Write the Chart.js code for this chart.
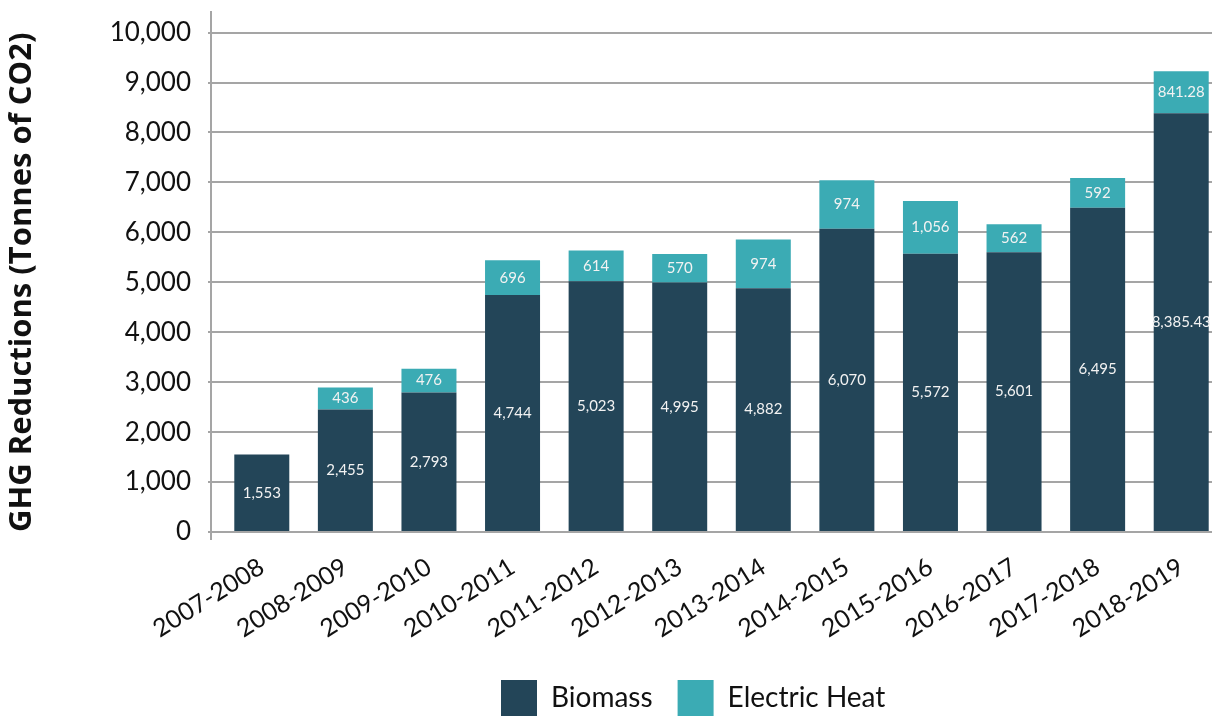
<!DOCTYPE html>
<html>
<head>
<meta charset="utf-8">
<script src="https://cdn.jsdelivr.net/npm/chart.js@4/dist/chart.umd.min.js"></script>
<style>
  html, body { margin: 0; padding: 0; background: #fff; }
  #wrap { width: 1212px; height: 717px; overflow: hidden; position: relative; }
  canvas { display: block; }
</style>
</head>
<body>
<div id="wrap">
  <canvas id="chart" width="1223" height="717" style="width:1223px;height:717px"></canvas>
</div>
<script>
const categories = ["2007-2008", "2008-2009", "2009-2010", "2010-2011", "2011-2012", "2012-2013",
  "2013-2014", "2014-2015", "2015-2016", "2016-2017", "2017-2018", "2018-2019"];
const biomass = [1553, 2455, 2793, 4744, 5023, 4995, 4882, 6070, 5572, 5601, 6495, 8385.43];
const electricHeat = [null, 436, 476, 696, 614, 570, 974, 974, 1056, 562, 592, 841.28];
const yTicks = [0, 1000, 2000, 3000, 4000, 5000, 6000, 7000, 8000, 9000, 10000];

const fmt = v => v.toLocaleString("en-US", { maximumFractionDigits: 2 });

// value labels inside each segment
const barLabels = {
  id: "barLabels",
  afterDatasetsDraw(chart) {
    const ctx = chart.ctx;
    ctx.save();
    ctx.fillStyle = "#f2f2f2";
    ctx.font = "15px Lato";
    ctx.textAlign = "center";
    ctx.textBaseline = "middle";
    chart.data.datasets.forEach((ds, i) => {
      chart.getDatasetMeta(i).data.forEach((bar, j) => {
        const v = ds.data[j];
        if (v == null) return;
        ctx.fillText(fmt(v), bar.x, (bar.y + bar.base) / 2);
      });
    });
    ctx.restore();
  }
};

// vertical axis line sits a little left of the plot area
const axisLine = {
  id: "axisLine",
  beforeDatasetsDraw(chart) {
    const { ctx, chartArea } = chart;
    ctx.save();
    ctx.strokeStyle = "#a5a5a5";
    ctx.lineWidth = 2;
    ctx.beginPath();
    ctx.moveTo(chartArea.left - 9, 11);
    ctx.lineTo(chartArea.left - 9, chartArea.bottom + 8);
    ctx.stroke();
    ctx.restore();
  }
};

// move legend under the visible part of the chart
const legendShift = {
  id: "legendShift",
  afterLayout(chart) {
    const lg = chart.legend;
    if (!lg || !lg.lineWidths) return;
    const pad = lg.options.labels.padding;
    const boxLeft = (lg.left + pad + lg.right - lg.lineWidths[0]) / 2;
    const dx = 501 - boxLeft;
    const dy = 680 - (lg.top + pad);
    lg.left += dx; lg.right += dx;
    lg.top += dy; lg.bottom += dy;
  }
};

new Chart(document.getElementById("chart"), {
  type: "bar",
  data: {
    labels: categories,
    datasets: [
      { label: "Biomass", data: biomass, backgroundColor: "#234558" },
      { label: "Electric Heat", data: electricHeat, backgroundColor: "#3babb4" }
    ]
  },
  options: {
    responsive: false,
    devicePixelRatio: 1,
    animation: false,
    layout: { padding: { top: 23, left: 0, right: 0, bottom: 0 } },
    datasets: { bar: { categoryPercentage: 1, barPercentage: 0.658 } },
    plugins: {
      tooltip: { enabled: false },
      legend: {
        position: "bottom",
        labels: {
          boxWidth: 36,
          boxHeight: 36,
          padding: 25,
          color: "#111",
          font: { family: "Lato", size: 28 }
        }
      }
    },
    scales: {
      x: {
        stacked: true,
        grid: { display: false },
        border: { display: false },
        ticks: {
          color: "#111",
          font: { family: "Lato", size: 25 },
          minRotation: 32,
          maxRotation: 32,
          autoSkip: false,
          padding: 12
        },
        afterFit(scale) { scale.height = 114; }
      },
      y: {
        stacked: true,
        min: 0,
        max: 10000,
        afterBuildTicks(scale) { scale.ticks = yTicks.map(v => ({ value: v })); },
        grid: { color: "#a5a5a5", lineWidth: 2, tickLength: 12 },
        border: { display: false },
        ticks: {
          color: "#111",
          font: { family: "Lato", size: 26 },
          padding: 17,
          callback: v => fmt(v)
        },
        title: {
          display: true,
          text: "GHG Reductions (Tonnes of CO2)",
          color: "#111",
          font: { family: "Open Sans", size: 31, weight: "bold" },
          padding: { top: 4, bottom: 0 }
        },
        afterFit(scale) { scale.width = 220; }
      }
    }
  },
  plugins: [barLabels, axisLine, legendShift]
});
</script>
</body>
</html>
